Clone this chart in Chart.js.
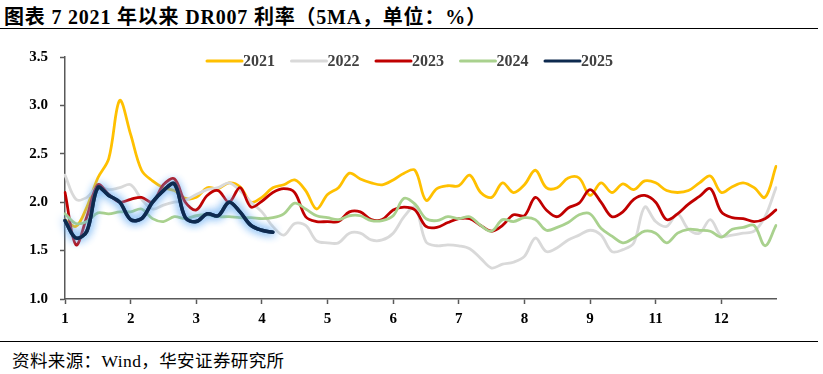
<!DOCTYPE html>
<html>
<head>
<meta charset="utf-8">
<script src="https://cdn.jsdelivr.net/npm/chart.js@4.4.1/dist/chart.umd.min.js"></script>
<style>
    body { margin: 0; background: #fff; width: 823px; height: 374px; overflow: hidden; position: relative;
           font-family: "Liberation Serif", "Noto Sans CJK SC", serif; }
    .title { position: absolute; left: 4px; top: 1px; font-size: 20px; letter-spacing: 0.8px; font-weight: bold; color: #000; white-space: nowrap; }
    .rule { position: absolute; left: 0; width: 818px; border-top: 1.5px solid #000; }
    .source { position: absolute; left: 12px; top: 347px; font-size: 17.5px; letter-spacing: 0.4px; color: #000; white-space: nowrap; }
    #wrap { position: absolute; left: 0; top: 30px; width: 823px; height: 310px; }
</style>
</head>
<body>
<div class="title">图表 7 2021 年以来 DR007 利率（5MA，单位：%）</div>
<div class="rule" style="top:28px"></div>
<div id="wrap"><canvas id="rateChart"></canvas></div>
<div class="rule" style="top:341px"></div>
<div class="source">资料来源：Wind，华安证券研究所</div>

<script>
// month tick labels (no 10 in the original)
const months = ["1", "2", "3", "4", "5", "6", "7", "8", "9", "11", "12"];
const stepsPerMonth = 6;

const seriesNames = ["2021", "2022", "2023", "2024", "2025"];
const seriesColors = ["#FFC000", "#D9D9D9", "#C00000", "#A9D18E", "#0E2A4F"];

const dr2021 = [1.82, 1.75, 1.95, 2.25, 2.45, 3.05, 2.7, 2.33, 2.22, 2.15, 2.12, 2.04,
    2.05, 2.15, 2.14, 2.2, 2.16, 2.0, 2.05, 2.15, 2.18, 2.23, 2.12, 1.93,
    2.08, 2.15, 2.3, 2.24, 2.2, 2.18, 2.23, 2.3, 2.33, 2.02, 2.14, 2.17,
    2.17, 2.28, 2.1, 2.05, 2.2, 2.1, 2.18, 2.33, 2.15, 2.15, 2.25, 2.25,
    2.07, 2.2, 2.1, 2.19, 2.13, 2.22, 2.2, 2.12, 2.1, 2.12, 2.2, 2.27,
    2.1, 2.16, 2.2, 2.15, 2.05, 2.37];
const dr2022 = [2.28, 2.03, 2.05, 2.16, 2.13, 2.15, 2.18, 2.03, 1.93, 1.97, 2.0, 2.02,
    2.08, 2.13, 2.15, 2.2, 2.12, 2.0, 1.9, 1.75, 1.66, 1.78, 1.76, 1.6,
    1.58, 1.58, 1.68, 1.68, 1.61, 1.61, 1.68, 1.85, 1.95, 1.59, 1.55, 1.56,
    1.55, 1.52, 1.42, 1.32, 1.36, 1.38, 1.44, 1.63, 1.49, 1.53, 1.61, 1.66,
    1.71, 1.66, 1.49, 1.51, 1.58, 1.95, 1.8, 1.75, 1.88, 1.72, 1.68, 1.82,
    1.65, 1.66, 1.68, 1.7, 1.85, 2.15];
const dr2023 = [2.1, 1.56, 1.85, 2.18, 2.08, 2.0, 2.03, 2.05, 2.0, 2.18, 2.24, 2.0,
    1.92, 2.07, 2.12, 2.0, 2.15, 1.95, 2.01, 2.1, 2.14, 2.1, 1.85, 1.8,
    1.8, 1.8, 1.9, 1.9, 1.82, 1.82, 1.92, 1.95, 1.92, 1.75, 1.74, 1.79,
    1.83, 1.83, 1.76, 1.7, 1.76, 1.87, 1.86, 2.05, 1.92, 1.85, 1.94, 1.99,
    2.13, 2.0, 1.85, 1.9, 2.03, 2.07, 2.0, 1.82, 1.88, 1.98, 2.06, 2.14,
    1.9, 1.84, 1.83, 1.8, 1.83, 1.92];
const dr2024 = [1.88, 1.78, 1.8, 1.89, 1.88, 1.9, 1.9, 1.93, 1.83, 1.8, 1.85, 1.83,
    1.86, 1.87, 1.85, 1.85, 1.84, 1.84, 1.83, 1.84, 1.88, 1.99, 1.93, 1.86,
    1.84, 1.82, 1.86, 1.86, 1.81, 1.81, 1.86, 2.04, 1.98, 1.83, 1.81, 1.85,
    1.83, 1.85, 1.76, 1.7, 1.82, 1.8, 1.84, 1.82, 1.71, 1.74, 1.79, 1.87,
    1.88, 1.73, 1.65, 1.58, 1.63, 1.7, 1.68, 1.58, 1.68, 1.72, 1.71, 1.7,
    1.64, 1.72, 1.74, 1.76, 1.55, 1.76];
const dr2025 = [1.81, 1.63, 1.7, 2.15, 2.07, 2.0, 1.82, 1.83, 2.0, 2.12, 2.19, 1.84,
    1.8, 1.88, 1.86, 2.0, 1.9, 1.76, 1.71, 1.69];

const yTicks = [1.0, 1.5, 2.0, 2.5, 3.0, 3.5];

// one category per step, month label on the first step of each month
const categories = [];
months.forEach(m => {
    for (let s = 0; s < stepsPerMonth; s++) categories.push(s === 0 ? m : "");
});
categories.length = dr2021.length;

const allSeries = [dr2021, dr2022, dr2023, dr2024, dr2025];
const axisColor = "#595959";
const tickFont = { family: "Liberation Serif", size: 15, weight: "bold" };

// soft blue halo under the 2025 line
const glowPlugin = {
    id: "glow",
    beforeDatasetDraw(chart, args) {
        if (args.index !== 4) return;
        const c = chart.ctx;
        c.save();
        c.shadowColor = "rgba(90,165,240,1)";
        c.shadowBlur = 10;
        // extra pass so the halo is as dense as in the source
        args.meta.dataset.draw(c, chart.chartArea);
    },
    afterDatasetDraw(chart, args) {
        if (args.index === 4) chart.ctx.restore();
    }
};

// legend sits inside the plot, so it is drawn by hand
const legendPlugin = {
    id: "insideLegend",
    afterDatasetsDraw(chart) {
        const c = chart.ctx;
        const startX = 207, step = 84.5, y = 31, lineLen = 35;
        c.save();
        c.font = "bold 16px 'Liberation Serif'";
        c.textBaseline = "middle";
        chart.data.datasets.forEach((ds, i) => {
            const x = startX + i * step;
            c.strokeStyle = ds.borderColor;
            c.lineWidth = 3;
            c.lineCap = "round";
            c.beginPath();
            c.moveTo(x, y);
            c.lineTo(x + lineLen, y);
            c.stroke();
            c.fillStyle = "#404040";
            c.fillText(ds.label, x + lineLen + 1, y + 1);
        });
        c.restore();
    }
};

new Chart(document.getElementById("rateChart"), {
    type: "line",
    data: {
        labels: categories,
        datasets: seriesNames.map((name, i) => ({
            label: name,
            data: allSeries[i],
            borderColor: seriesColors[i],
            backgroundColor: seriesColors[i],
            borderWidth: i === 4 ? 3.5 : 2.8,
            borderCapStyle: "round",
            borderJoinStyle: "round",
            pointRadius: 0,
            tension: 0.35,
            order: 5 - i
        }))
    },
    options: {
        responsive: true,
        maintainAspectRatio: false,
        animation: false,
        layout: { padding: { top: 27, right: 47, left: 0, bottom: 0 } },
        plugins: {
            legend: { display: false },
            tooltip: { enabled: false }
        },
        scales: {
            x: {
                ticks: {
                    autoSkip: false,
                    maxRotation: 0,
                    padding: 6,
                    color: "#000",
                    font: tickFont
                },
                grid: {
                    drawOnChartArea: false,
                    tickLength: 5,
                    tickColor: ctx => (ctx.tick && ctx.tick.label !== "" ? axisColor : "rgba(0,0,0,0)"),
                    tickWidth: 1.5
                },
                border: { color: axisColor, width: 1.5 },
                afterFit: s => { s.height = 41; }
            },
            y: {
                min: yTicks[0],
                max: yTicks[yTicks.length - 1],
                afterBuildTicks: s => { s.ticks = yTicks.map(v => ({ value: v })); },
                ticks: {
                    padding: 12,
                    color: "#000",
                    font: tickFont,
                    callback: v => Number(v).toFixed(1)
                },
                grid: { drawOnChartArea: false, tickLength: 5, tickColor: axisColor, tickWidth: 1.5 },
                border: { color: axisColor, width: 1.5 },
                afterFit: s => { s.width = 65; }
            }
        }
    },
    plugins: [glowPlugin, legendPlugin]
});
</script>
</body>
</html>
